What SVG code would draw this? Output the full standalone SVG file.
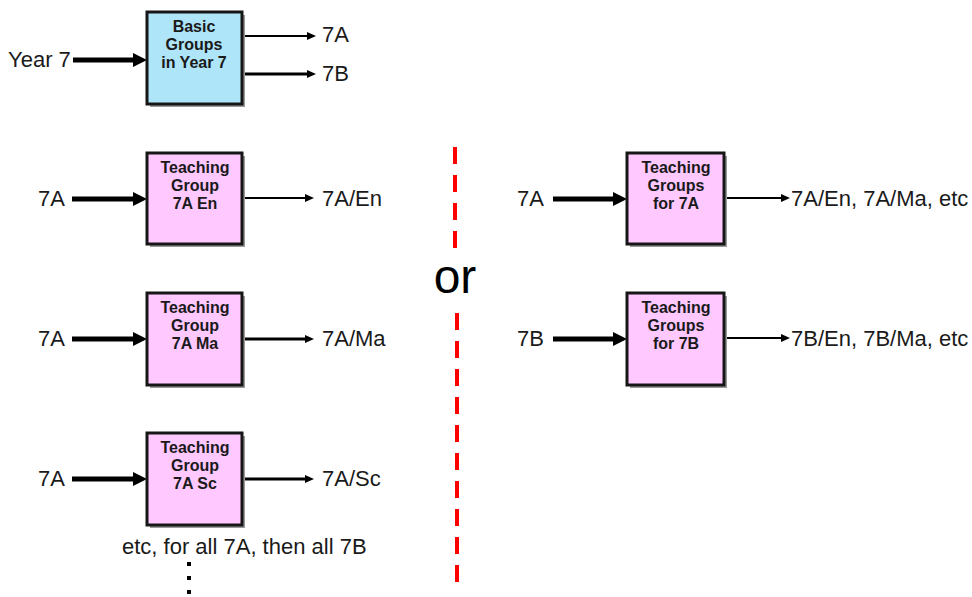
<svg xmlns="http://www.w3.org/2000/svg" width="972" height="597" viewBox="0 0 972 597">
<style>
text{font-family:"Liberation Sans",Arial,sans-serif;fill:#1a1a1a}
.lbl{font-size:22px}
.bx{font-size:16px;font-weight:bold;text-anchor:middle}
.shadow{fill:#9a9a9a}
.box{stroke:#161616;stroke-width:3}
.blue{fill:#aee5f8}
.pink{fill:#ffc8ff}
.thick{stroke:#000;stroke-width:5;fill:none;marker-end:url(#hT)}
.thin{stroke:#000;stroke-width:2;fill:none;marker-end:url(#hS)}
.mid{stroke:#000;stroke-width:3;fill:none;marker-end:url(#hS)}
.dash{stroke:#ff0000;stroke-width:4;stroke-dasharray:17 11;fill:none}
</style>
<defs>
<marker id="hT" markerUnits="userSpaceOnUse" markerWidth="14" markerHeight="14" viewBox="0 0 14 14" refX="2" refY="7" orient="auto"><path d="M0,0 L14,7 L0,14 z" fill="#000"/></marker>
<marker id="hS" markerUnits="userSpaceOnUse" markerWidth="9" markerHeight="8" viewBox="0 0 9 8" refX="2" refY="4" orient="auto"><path d="M0,0 L9,4 L0,8 z" fill="#000"/></marker>
</defs>
<rect width="972" height="597" fill="#fff"/>

<g id="connectors">
<line class="thick" x1="73" y1="60" x2="135" y2="60"/>
<line class="thin" x1="242" y1="36" x2="309" y2="36"/>
<line class="mid" x1="242" y1="74" x2="309" y2="74"/>
<line class="thick" x1="72" y1="199" x2="135" y2="199"/>
<line class="thin" x1="242" y1="198" x2="307" y2="198"/>
<line class="thick" x1="72" y1="339" x2="135" y2="339"/>
<line class="mid" x1="242" y1="339" x2="307" y2="339"/>
<line class="thick" x1="72" y1="479" x2="135" y2="479"/>
<line class="mid" x1="242" y1="479" x2="307" y2="479"/>
<line class="thick" x1="553" y1="199" x2="615" y2="199"/>
<line class="thin" x1="727" y1="198" x2="783" y2="198"/>
<line class="thick" x1="553" y1="339" x2="615" y2="339"/>
<line class="thin" x1="727" y1="338" x2="783" y2="338"/>
</g>

<g id="separator">
<line class="dash" x1="455" y1="147" x2="455" y2="255"/>
<line class="dash" x1="457" y1="313" x2="457" y2="583"/>
<text x="455" y="293" style="font-size:48px;text-anchor:middle;fill:#000">or</text>
</g>

<g id="basic">
<rect class="shadow" x="150" y="15" width="95" height="92"/>
<rect class="box blue" x="147" y="12" width="95" height="92"/>
<text class="bx" x="194" y="32">Basic</text>
<text class="bx" x="194" y="50">Groups</text>
<text class="bx" x="194" y="68">in Year 7</text>
</g>

<g id="tg-en">
<rect class="shadow" x="150" y="156" width="95" height="91"/>
<rect class="box pink" x="147" y="153" width="95" height="91"/>
<text class="bx" x="195" y="173">Teaching</text>
<text class="bx" x="195" y="191">Group</text>
<text class="bx" x="195" y="209">7A En</text>
</g>

<g id="tg-ma">
<rect class="shadow" x="150" y="296" width="95" height="92"/>
<rect class="box pink" x="147" y="293" width="95" height="92"/>
<text class="bx" x="195" y="313">Teaching</text>
<text class="bx" x="195" y="331">Group</text>
<text class="bx" x="195" y="349">7A Ma</text>
</g>

<g id="tg-sc">
<rect class="shadow" x="150" y="436" width="95" height="92"/>
<rect class="box pink" x="147" y="433" width="95" height="92"/>
<text class="bx" x="195" y="453">Teaching</text>
<text class="bx" x="195" y="471">Group</text>
<text class="bx" x="195" y="489">7A Sc</text>
</g>

<g id="tgs-7a">
<rect class="shadow" x="630" y="156" width="97" height="91"/>
<rect class="box pink" x="627" y="153" width="97" height="91"/>
<text class="bx" x="676" y="173">Teaching</text>
<text class="bx" x="676" y="191">Groups</text>
<text class="bx" x="676" y="209">for 7A</text>
</g>

<g id="tgs-7b">
<rect class="shadow" x="630" y="296" width="97" height="92"/>
<rect class="box pink" x="627" y="293" width="97" height="92"/>
<text class="bx" x="676" y="313">Teaching</text>
<text class="bx" x="676" y="331">Groups</text>
<text class="bx" x="676" y="349">for 7B</text>
</g>

<g id="labels">
<text class="lbl" x="8" y="67">Year 7</text>
<text class="lbl" x="322" y="42">7A</text>
<text class="lbl" x="322" y="81">7B</text>
<text class="lbl" x="38" y="206">7A</text>
<text class="lbl" x="322" y="206">7A/En</text>
<text class="lbl" x="38" y="346">7A</text>
<text class="lbl" x="322" y="346">7A/Ma</text>
<text class="lbl" x="38" y="486">7A</text>
<text class="lbl" x="322" y="486">7A/Sc</text>
<text class="lbl" x="517" y="206">7A</text>
<text class="lbl" x="791" y="206">7A/En, 7A/Ma, etc</text>
<text class="lbl" x="517" y="346">7B</text>
<text class="lbl" x="791" y="346">7B/En, 7B/Ma, etc</text>
<text class="lbl" x="122" y="554">etc, for all 7A, then all 7B</text>
</g>

<g id="dots" fill="#000">
<rect x="187" y="562" width="4" height="4"/>
<rect x="187" y="576" width="4" height="4"/>
<rect x="187" y="590" width="4" height="4"/>
</g>
</svg>
